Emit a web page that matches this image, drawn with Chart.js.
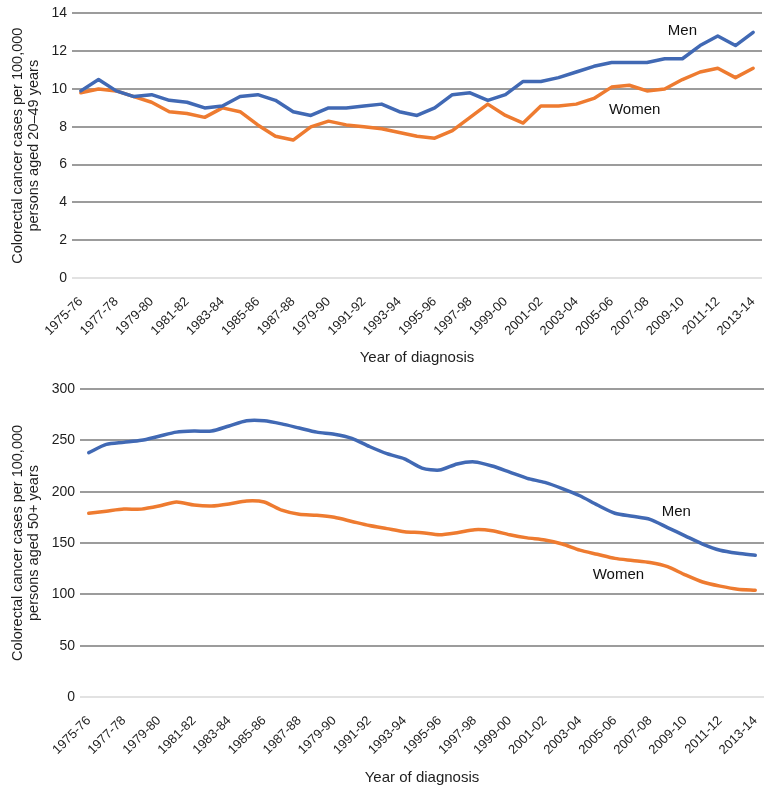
<!DOCTYPE html>
<html>
<head>
<meta charset="utf-8">
<script src="https://cdn.jsdelivr.net/npm/chart.js@4"></script>
<style>
    html, body { margin: 0; padding: 0; background: #fff; }
    .panel { position: relative; width: 764px; }
    canvas { display: block; }
</style>
</head>
<body>
<div class="panel"><canvas id="chart-young" width="764" height="375"></canvas></div>
<div class="panel"><canvas id="chart-older" width="764" height="414"></canvas></div>
<script>
// Periods of diagnosis (labels printed as in the source, incl. "1979-90")
const periods = [
    '1975-76', '1976-77', '1977-78', '1978-79', '1979-80', '1980-81', '1981-82', '1982-83',
    '1983-84', '1984-85', '1985-86', '1986-87', '1987-88', '1988-89', '1979-90', '1990-91',
    '1991-92', '1992-93', '1993-94', '1994-95', '1995-96', '1996-97', '1997-98', '1998-99',
    '1999-00', '2000-01', '2001-02', '2002-03', '2003-04', '2004-05', '2005-06', '2006-07',
    '2007-08', '2008-09', '2009-10', '2010-11', '2011-12', '2012-13', '2013-14'
];

// Ages 20-49, cases per 100,000
const menYoung = [9.9, 10.5, 9.9, 9.6, 9.7, 9.4, 9.3, 9.0, 9.1, 9.6, 9.7, 9.4, 8.8, 8.6, 9.0, 9.0,
    9.1, 9.2, 8.8, 8.6, 9.0, 9.7, 9.8, 9.4, 9.7, 10.4, 10.4, 10.6, 10.9, 11.2, 11.4, 11.4,
    11.4, 11.6, 11.6, 12.3, 12.8, 12.3, 13.0];
const womenYoung = [9.8, 10.0, 9.9, 9.6, 9.3, 8.8, 8.7, 8.5, 9.0, 8.8, 8.1, 7.5, 7.3, 8.0, 8.3, 8.1,
    8.0, 7.9, 7.7, 7.5, 7.4, 7.8, 8.5, 9.2, 8.6, 8.2, 9.1, 9.1, 9.2, 9.5, 10.1, 10.2,
    9.9, 10.0, 10.5, 10.9, 11.1, 10.6, 11.1];

// Ages 50+, cases per 100,000
const menOlder = [238, 246, 248, 250, 254, 258, 259, 259, 264, 269, 269, 266, 262, 258, 256, 252,
    244, 237, 232, 223, 221, 227, 229, 225, 219, 213, 209, 203, 196, 187, 179, 176,
    173, 165, 157, 149, 143, 140, 138];
const womenOlder = [179, 181, 183, 183, 186, 190, 187, 186, 188, 191, 190, 182, 178, 177, 175, 171,
    167, 164, 161, 160, 158, 160, 163, 162, 158, 155, 153, 149, 143, 139, 135, 133,
    131, 127, 119, 112, 108, 105, 104];

const colors = {
    men: '#4169b4',
    women: '#ee7b30',
    grid: '#9c9c9c',
    zero: '#e2e2e2',
    text: '#1e1e1e'
};
const FONT = '"Liberation Sans", Arial, Helvetica, sans-serif';

// Draws the "Men" / "Women" tags at data coordinates
const seriesLabels = {
    id: 'seriesLabels',
    afterDatasetsDraw(chart, args, opts) {
        const { ctx, scales: { x, y } } = chart;
        ctx.save();
        ctx.font = '15px ' + FONT;
        ctx.fillStyle = '#111';
        ctx.textAlign = 'center';
        ctx.textBaseline = 'middle';
        (opts.items || []).forEach(it => {
            ctx.fillText(it.text, x.getPixelForValue(it.at), y.getPixelForValue(it.value));
        });
        ctx.restore();
    }
};

function makeChart(id, cfg) {
    const ctx = document.getElementById(id).getContext('2d');
    return new Chart(ctx, {
        type: 'line',
        data: {
            labels: periods,
            datasets: [
                { label: 'Men', data: cfg.men, borderColor: colors.men },
                { label: 'Women', data: cfg.women, borderColor: colors.women }
            ]
        },
        plugins: [seriesLabels],
        options: {
            responsive: false,
            animation: false,
            layout: { padding: { top: cfg.padTop, right: cfg.padRight, left: 0, bottom: 0 } },
            elements: {
                line: { borderWidth: 3.5, tension: cfg.tension, borderCapStyle: 'round', borderJoinStyle: 'round' },
                point: { radius: 0, hoverRadius: 0 }
            },
            plugins: {
                legend: { display: false },
                tooltip: { enabled: false },
                seriesLabels: { items: cfg.tags }
            },
            scales: {
                x: {
                    offset: true,
                    grid: { display: false },
                    border: { display: false },
                    // fixed height, and no extra side room for the rotated labels
                    afterFit: s => { s.height = cfg.xHeight; s.paddingLeft = 0; s.paddingRight = 0; },
                    ticks: {
                        autoSkip: false,
                        maxRotation: 45,
                        minRotation: 45,
                        padding: 8,
                        color: colors.text,
                        font: { family: FONT, size: 13 },
                        callback: function (v, i) { return i % 2 === 0 ? this.getLabelForValue(v) : ''; }
                    },
                    title: {
                        display: true,
                        text: 'Year of diagnosis',
                        color: colors.text,
                        font: { family: FONT, size: 15 },
                        padding: { top: 4, bottom: cfg.titlePad }
                    }
                },
                y: {
                    min: 0,
                    max: cfg.max,
                    afterFit: s => { s.width = cfg.yWidth; },
                    border: { display: false },
                    grid: {
                        drawTicks: false,
                        lineWidth: 2,
                        color: c => (c.tick && c.tick.value === 0) ? colors.zero : colors.grid
                    },
                    ticks: {
                        stepSize: cfg.step,
                        padding: 5,
                        color: colors.text,
                        font: { family: FONT, size: 14 }
                    },
                    title: {
                        display: true,
                        text: cfg.yTitle,
                        color: colors.text,
                        font: { family: FONT, size: 14.5, lineHeight: 1.1 },
                        padding: { top: 10, bottom: 0 }
                    }
                }
            }
        }
    });
}

makeChart('chart-young', {
    men: menYoung,
    women: womenYoung,
    max: 14,
    step: 2,
    tension: 0,
    padTop: 11,
    padRight: 2,
    xHeight: 97,
    yWidth: 72,
    titlePad: 8,
    yTitle: ['Colorectal cancer cases per 100,000', 'persons aged 20\u201349 years'],
    tags: [
        { text: 'Men', at: 34, value: 13.1 },
        { text: 'Women', at: 31.3, value: 8.9 }
    ]
});

makeChart('chart-older', {
    men: menOlder,
    women: womenOlder,
    max: 300,
    step: 50,
    tension: 0.25,
    padTop: 14,
    padRight: 0,
    xHeight: 92,
    yWidth: 80,
    titlePad: 2,
    yTitle: ['Colorectal cancer cases per 100,000', 'persons aged 50+ years'],
    tags: [
        { text: 'Men', at: 33.5, value: 180 },
        { text: 'Women', at: 30.2, value: 119 }
    ]
});
</script>
</body>
</html>
